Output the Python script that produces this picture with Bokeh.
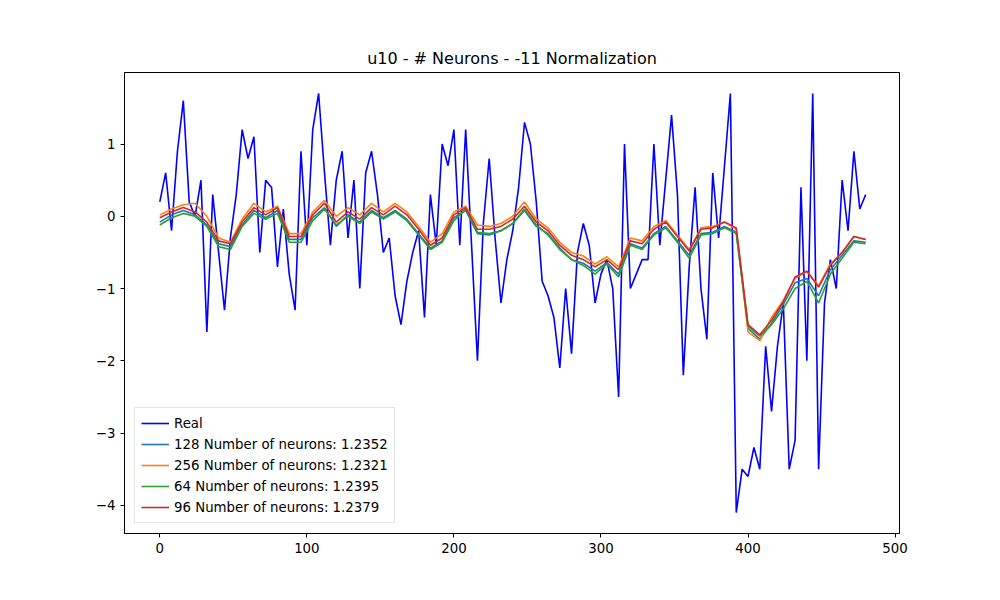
from bokeh.plotting import figure
from bokeh.models import Range1d, Legend, LegendItem, FixedTicker
from bokeh.embed import file_html
from bokeh.resources import INLINE

# Real series sampled every 4 steps
real_x = list(range(0, 481, 4))
real_y = [0.2, 0.6, -0.2, 0.9, 1.6, 0.2, 0.0, 0.5, -1.6, 0.3, -0.5, -1.3,
          -0.3, 0.3, 1.2, 0.8, 1.1, -0.5, 0.5, 0.4, -0.7, 0.1, -0.8, -1.3,
          0.9, -0.4, 1.2, 1.7, 0.6, -0.4, 0.5, 0.9, -0.3, 0.5, -1.0, 0.6,
          0.9, 0.3, -0.5, -0.3, -1.1, -1.5, -0.9, -0.5, -0.2, -1.4, 0.3, -0.4,
          1.0, 0.7, 1.2, -0.4, 1.2, -0.4, -2.0, -0.1, 0.8, -0.3, -1.2, -0.6,
          -0.2, 0.4, 1.3, 1.0, 0.2, -0.9, -1.1, -1.4, -2.1, -1.0, -1.9, -0.5,
          -0.1, -0.4, -1.2, -0.8, -0.6, -1.0, -2.5, 1.0, -1.0, -0.8, -0.6, -0.6,
          1.0, -0.4, 0.5, 1.4, 0.3, -2.2, -0.7, 0.4, -1.0, -1.7, 0.6, -0.3,
          0.7, 1.7, -4.1, -3.5, -3.6, -3.2, -3.5, -1.8, -2.7, -1.8, -1.2, -3.5,
          -3.1, 0.4, -2.0, 1.7, -3.5, -1.2, -0.6, -1.0, 0.5, -0.2, 0.9, 0.1, 0.3]

# Model predictions sampled every 8 steps
model_x = list(range(0, 481, 8))
n128 = [-0.08, 0.02, 0.08, 0.02, -0.12, -0.38, -0.42, -0.12, 0.08, -0.02, 0.08, -0.32,
        -0.32, -0.02, 0.12, -0.14, 0.02, -0.08, 0.08, -0.02, 0.08, -0.04, -0.24, -0.44,
        -0.34, -0.02, 0.08, -0.24, -0.26, -0.2, -0.1, 0.08, -0.14, -0.24, -0.44, -0.6,
        -0.65, -0.76, -0.64, -0.8, -0.38, -0.44, -0.24, -0.14, -0.34, -0.54, -0.24, -0.22,
        -0.14, -0.22, -1.55, -1.7, -1.48, -1.22, -0.92, -0.86, -1.1, -0.74, -0.54, -0.34, -0.36]
n256 = [0.02, 0.1, 0.16, 0.18, 0.0, -0.3, -0.36, -0.04, 0.18, 0.06, 0.14, -0.24,
        -0.24, 0.06, 0.22, 0.0, 0.12, 0.02, 0.18, 0.06, 0.18, 0.06, -0.14, -0.36,
        -0.24, 0.06, 0.14, -0.12, -0.14, -0.1, 0.0, 0.2, -0.04, -0.16, -0.36, -0.5,
        -0.55, -0.66, -0.56, -0.7, -0.3, -0.34, -0.14, -0.06, -0.26, -0.46, -0.16, -0.14,
        -0.08, -0.18, -1.6, -1.72, -1.4, -1.16, -0.86, -0.76, -0.96, -0.66, -0.5, -0.28, -0.32]
n64 = [-0.12, -0.02, 0.04, 0.0, -0.14, -0.42, -0.46, -0.14, 0.04, -0.04, 0.04, -0.36,
       -0.36, -0.06, 0.1, -0.12, 0.0, -0.1, 0.06, -0.04, 0.06, -0.06, -0.26, -0.46,
       -0.36, -0.06, 0.1, -0.22, -0.24, -0.2, -0.1, 0.1, -0.12, -0.26, -0.46, -0.6,
       -0.68, -0.8, -0.66, -0.84, -0.4, -0.46, -0.26, -0.16, -0.36, -0.58, -0.26, -0.24,
       -0.16, -0.24, -1.52, -1.66, -1.5, -1.28, -1.0, -0.9, -1.2, -0.8, -0.58, -0.36, -0.38]
n96 = [-0.02, 0.06, 0.12, 0.06, -0.08, -0.34, -0.38, -0.08, 0.12, 0.02, 0.12, -0.28,
       -0.28, 0.02, 0.18, -0.08, 0.06, -0.04, 0.12, 0.02, 0.14, 0.02, -0.18, -0.4,
       -0.3, 0.02, 0.12, -0.18, -0.18, -0.14, -0.04, 0.14, -0.08, -0.2, -0.4, -0.54,
       -0.6, -0.7, -0.6, -0.74, -0.34, -0.38, -0.18, -0.08, -0.28, -0.48, -0.18, -0.16,
       -0.08, -0.16, -1.5, -1.64, -1.44, -1.18, -0.84, -0.76, -0.98, -0.68, -0.5, -0.28, -0.32]

p = figure(width=984, height=584, output_backend="svg", toolbar_location=None,
           title="u10 - # Neurons - -11 Normalization",
           x_range=Range1d(-24, 503), y_range=Range1d(-4.39, 1.99),
           min_border_left=124, min_border_right=85, min_border_top=72, min_border_bottom=51)
p.title.align = "center"
p.title.text_font = "DejaVu Sans"
p.title.text_font_size = "12pt"
p.title.text_font_style = "normal"
p.title.text_color = "black"
p.xgrid.visible = False
p.ygrid.visible = False
p.outline_line_color = "black"
p.xaxis.ticker = FixedTicker(ticks=[0, 100, 200, 300, 400, 500])
p.yaxis.ticker = FixedTicker(ticks=[-4, -3, -2, -1, 0, 1])
for ax in (p.xaxis[0], p.yaxis[0]):
    ax.minor_tick_line_color = None
    ax.major_label_text_font = "DejaVu Sans"
    ax.major_label_text_font_size = "10pt"
    ax.major_label_text_color = "black"
    ax.axis_line_color = "black"
    ax.major_tick_line_color = "black"
    ax.major_tick_in = 0
    ax.major_tick_out = 4
p.yaxis.major_label_orientation = "horizontal"
p.yaxis.formatter.use_scientific = False

r0 = p.line(real_x, real_y, line_color="#0000ff", line_width=1.6)
r1 = p.line(model_x, n128, line_color="#1f77b4", line_width=1.6)
r2 = p.line(model_x, n256, line_color="#ff7f0e", line_width=1.6)
r3 = p.line(model_x, n64, line_color="#2ca02c", line_width=1.6)
r4 = p.line(model_x, n96, line_color="#d62728", line_width=1.6)

legend = Legend(items=[
    LegendItem(label="Real", renderers=[r0]),
    LegendItem(label="128 Number of neurons: 1.2352", renderers=[r1]),
    LegendItem(label="256 Number of neurons: 1.2321", renderers=[r2]),
    LegendItem(label="64 Number of neurons: 1.2395", renderers=[r3]),
    LegendItem(label="96 Number of neurons: 1.2379", renderers=[r4]),
], location="bottom_left")
legend.label_text_font = "DejaVu Sans"
legend.label_text_font_size = "10pt"
legend.label_text_color = "black"
legend.border_line_color = "#cccccc"
legend.spacing = 3
legend.padding = 6
legend.glyph_width = 28
legend.label_height = 18
legend.glyph_height = 18
p.add_layout(legend)

open("out.html", "w").write(file_html(p, INLINE))
